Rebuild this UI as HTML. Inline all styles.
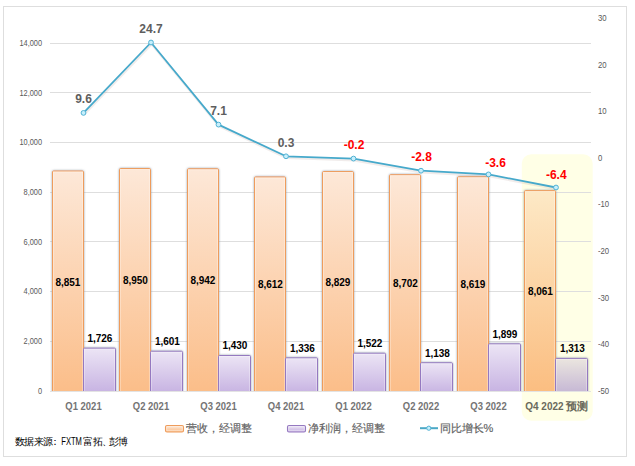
<!DOCTYPE html>
<html><head><meta charset="utf-8"><style>
html,body{margin:0;padding:0;background:#fff;}
body{width:635px;height:466px;overflow:hidden;position:relative;}
svg{position:absolute;left:0;top:0;}
text{font-family:"Liberation Sans",sans-serif;}
</style></head><body>
<svg width="635" height="466" viewBox="0 0 635 466">
<defs>
<linearGradient id="go" x1="0" y1="0" x2="0" y2="1">
<stop offset="0" stop-color="#fde8d8"/><stop offset="1" stop-color="#fbbd88"/>
</linearGradient>
<linearGradient id="gp" x1="0" y1="0" x2="0" y2="1">
<stop offset="0" stop-color="#ece5f5"/><stop offset="1" stop-color="#c5b0e1"/>
</linearGradient>
<filter id="sh" x="-5%" y="-5%" width="110%" height="110%">
<feGaussianBlur in="SourceAlpha" stdDeviation="1.1" result="b"/>
<feFlood flood-color="#8a96a2" flood-opacity="0.9"/>
<feComposite in2="b" operator="in" result="s"/>
<feMerge><feMergeNode in="s"/><feMergeNode in="SourceGraphic"/></feMerge>
</filter>
<linearGradient id="go2" x1="0" y1="0" x2="0" y2="1">
<stop offset="0" stop-color="#fde9c6"/><stop offset="1" stop-color="#fbbd80"/>
</linearGradient>
<linearGradient id="gp2" x1="0" y1="0" x2="0" y2="1">
<stop offset="0" stop-color="#ebe6df"/><stop offset="1" stop-color="#c3b4d4"/>
</linearGradient>
<clipPath id="cl"><rect x="0" y="0" width="635" height="391"/></clipPath>
</defs>
<rect x="0" y="0" width="635" height="466" fill="#fff"/>
<rect x="3.5" y="6.5" width="623" height="450" fill="#fff" stroke="#dedede" stroke-width="1"/>

<rect x="521.8" y="154.2" width="70.9" height="266.6" rx="9.5" ry="9.5" fill="#ffffe6"/>
<line x1="50" y1="341.5" x2="591" y2="341.5" stroke="#dedede" stroke-width="1"/>
<line x1="50" y1="291.5" x2="591" y2="291.5" stroke="#dedede" stroke-width="1"/>
<line x1="50" y1="241.5" x2="591" y2="241.5" stroke="#dedede" stroke-width="1"/>
<line x1="50" y1="192.5" x2="591" y2="192.5" stroke="#dedede" stroke-width="1"/>
<line x1="50" y1="142.5" x2="591" y2="142.5" stroke="#dedede" stroke-width="1"/>
<line x1="50" y1="92.5" x2="591" y2="92.5" stroke="#dedede" stroke-width="1"/>
<line x1="50" y1="43.5" x2="591" y2="43.5" stroke="#dedede" stroke-width="1"/>
<text transform="translate(42.1 393.70) scale(0.86 1)" x="0" y="0" font-size="8.6" fill="#595959" text-anchor="end">0</text>
<text transform="translate(42.1 344.06) scale(0.86 1)" x="0" y="0" font-size="8.6" fill="#595959" text-anchor="end">2,000</text>
<text transform="translate(42.1 294.41) scale(0.86 1)" x="0" y="0" font-size="8.6" fill="#595959" text-anchor="end">4,000</text>
<text transform="translate(42.1 244.77) scale(0.86 1)" x="0" y="0" font-size="8.6" fill="#595959" text-anchor="end">6,000</text>
<text transform="translate(42.1 195.13) scale(0.86 1)" x="0" y="0" font-size="8.6" fill="#595959" text-anchor="end">8,000</text>
<text transform="translate(42.1 145.49) scale(0.86 1)" x="0" y="0" font-size="8.6" fill="#595959" text-anchor="end">10,000</text>
<text transform="translate(42.1 95.84) scale(0.86 1)" x="0" y="0" font-size="8.6" fill="#595959" text-anchor="end">12,000</text>
<text transform="translate(42.1 46.20) scale(0.86 1)" x="0" y="0" font-size="8.6" fill="#595959" text-anchor="end">14,000</text>
<text transform="translate(597.9 393.90) scale(0.9 1)" x="0" y="0" font-size="8.6" fill="#595959">-50</text>
<text transform="translate(597.9 347.29) scale(0.9 1)" x="0" y="0" font-size="8.6" fill="#595959">-40</text>
<text transform="translate(597.9 300.68) scale(0.9 1)" x="0" y="0" font-size="8.6" fill="#595959">-30</text>
<text transform="translate(597.9 254.07) scale(0.9 1)" x="0" y="0" font-size="8.6" fill="#595959">-20</text>
<text transform="translate(597.9 207.46) scale(0.9 1)" x="0" y="0" font-size="8.6" fill="#595959">-10</text>
<text transform="translate(597.9 160.85) scale(0.9 1)" x="0" y="0" font-size="8.6" fill="#595959">0</text>
<text transform="translate(597.9 114.24) scale(0.9 1)" x="0" y="0" font-size="8.6" fill="#595959">10</text>
<text transform="translate(597.9 67.63) scale(0.9 1)" x="0" y="0" font-size="8.6" fill="#595959">20</text>
<text transform="translate(597.9 21.02) scale(0.9 1)" x="0" y="0" font-size="8.6" fill="#595959">30</text>
<line x1="50" y1="391.5" x2="591" y2="391.5" stroke="#e3e3e3" stroke-width="1"/>
<g clip-path="url(#cl)"><g filter="url(#sh)">
<rect x="52.50" y="171.01" width="31" height="223.69" rx="1" fill="url(#go)" stroke="#ee9c5c" stroke-width="1"/>
<rect x="53.50" y="172.01" width="29" height="221.69" fill="none" stroke="#ffffff" stroke-opacity="0.3" stroke-width="1"/>
<rect x="119.50" y="168.55" width="31" height="226.15" rx="1" fill="url(#go)" stroke="#ee9c5c" stroke-width="1"/>
<rect x="120.50" y="169.55" width="29" height="224.15" fill="none" stroke="#ffffff" stroke-opacity="0.3" stroke-width="1"/>
<rect x="187.50" y="168.75" width="31" height="225.95" rx="1" fill="url(#go)" stroke="#ee9c5c" stroke-width="1"/>
<rect x="188.50" y="169.75" width="29" height="223.95" fill="none" stroke="#ffffff" stroke-opacity="0.3" stroke-width="1"/>
<rect x="254.50" y="176.94" width="31" height="217.76" rx="1" fill="url(#go)" stroke="#ee9c5c" stroke-width="1"/>
<rect x="255.50" y="177.94" width="29" height="215.76" fill="none" stroke="#ffffff" stroke-opacity="0.3" stroke-width="1"/>
<rect x="322.50" y="171.55" width="31" height="223.15" rx="1" fill="url(#go)" stroke="#ee9c5c" stroke-width="1"/>
<rect x="323.50" y="172.55" width="29" height="221.15" fill="none" stroke="#ffffff" stroke-opacity="0.3" stroke-width="1"/>
<rect x="389.50" y="174.70" width="31" height="220.00" rx="1" fill="url(#go)" stroke="#ee9c5c" stroke-width="1"/>
<rect x="390.50" y="175.70" width="29" height="218.00" fill="none" stroke="#ffffff" stroke-opacity="0.3" stroke-width="1"/>
<rect x="457.50" y="176.76" width="31" height="217.94" rx="1" fill="url(#go)" stroke="#ee9c5c" stroke-width="1"/>
<rect x="458.50" y="177.76" width="29" height="215.94" fill="none" stroke="#ffffff" stroke-opacity="0.3" stroke-width="1"/>
<rect x="524.50" y="190.61" width="31" height="204.09" rx="1" fill="url(#go2)" stroke="#ee9c5c" stroke-width="1"/>
<rect x="525.50" y="191.61" width="29" height="202.09" fill="none" stroke="#ffffff" stroke-opacity="0.3" stroke-width="1"/>
<rect x="83.50" y="348.16" width="32" height="46.84" rx="1" fill="url(#gp)" stroke="#9579c0" stroke-width="1"/>
<rect x="84.50" y="349.16" width="30" height="44.84" fill="none" stroke="#ffffff" stroke-opacity="0.3" stroke-width="1"/>
<rect x="150.50" y="351.26" width="32" height="43.74" rx="1" fill="url(#gp)" stroke="#9579c0" stroke-width="1"/>
<rect x="151.50" y="352.26" width="30" height="41.74" fill="none" stroke="#ffffff" stroke-opacity="0.3" stroke-width="1"/>
<rect x="218.50" y="355.51" width="32" height="39.49" rx="1" fill="url(#gp)" stroke="#9579c0" stroke-width="1"/>
<rect x="219.50" y="356.51" width="30" height="37.49" fill="none" stroke="#ffffff" stroke-opacity="0.3" stroke-width="1"/>
<rect x="285.50" y="357.84" width="32" height="37.16" rx="1" fill="url(#gp)" stroke="#9579c0" stroke-width="1"/>
<rect x="286.50" y="358.84" width="30" height="35.16" fill="none" stroke="#ffffff" stroke-opacity="0.3" stroke-width="1"/>
<rect x="353.50" y="353.22" width="32" height="41.78" rx="1" fill="url(#gp)" stroke="#9579c0" stroke-width="1"/>
<rect x="354.50" y="354.22" width="30" height="39.78" fill="none" stroke="#ffffff" stroke-opacity="0.3" stroke-width="1"/>
<rect x="420.50" y="362.75" width="32" height="32.25" rx="1" fill="url(#gp)" stroke="#9579c0" stroke-width="1"/>
<rect x="421.50" y="363.75" width="30" height="30.25" fill="none" stroke="#ffffff" stroke-opacity="0.3" stroke-width="1"/>
<rect x="488.50" y="343.86" width="32" height="51.14" rx="1" fill="url(#gp)" stroke="#9579c0" stroke-width="1"/>
<rect x="489.50" y="344.86" width="30" height="49.14" fill="none" stroke="#ffffff" stroke-opacity="0.3" stroke-width="1"/>
<rect x="555.50" y="358.41" width="32" height="36.59" rx="1" fill="url(#gp2)" stroke="#9579c0" stroke-width="1"/>
<rect x="556.50" y="359.41" width="30" height="34.59" fill="none" stroke="#ffffff" stroke-opacity="0.3" stroke-width="1"/>
</g></g>
<text x="67.9" y="285.5" font-size="10" font-weight="bold" fill="#000" text-anchor="middle">8,851</text>
<text x="99.9" y="342.1" font-size="10" font-weight="bold" fill="#000" text-anchor="middle">1,726</text>
<text x="135.4" y="284.2" font-size="10" font-weight="bold" fill="#000" text-anchor="middle">8,950</text>
<text x="167.4" y="345.2" font-size="10" font-weight="bold" fill="#000" text-anchor="middle">1,601</text>
<text x="202.9" y="284.3" font-size="10" font-weight="bold" fill="#000" text-anchor="middle">8,942</text>
<text x="234.9" y="349.4" font-size="10" font-weight="bold" fill="#000" text-anchor="middle">1,430</text>
<text x="270.4" y="288.4" font-size="10" font-weight="bold" fill="#000" text-anchor="middle">8,612</text>
<text x="302.4" y="351.7" font-size="10" font-weight="bold" fill="#000" text-anchor="middle">1,336</text>
<text x="337.9" y="285.7" font-size="10" font-weight="bold" fill="#000" text-anchor="middle">8,829</text>
<text x="369.9" y="347.1" font-size="10" font-weight="bold" fill="#000" text-anchor="middle">1,522</text>
<text x="405.4" y="287.3" font-size="10" font-weight="bold" fill="#000" text-anchor="middle">8,702</text>
<text x="437.4" y="356.7" font-size="10" font-weight="bold" fill="#000" text-anchor="middle">1,138</text>
<text x="472.9" y="288.3" font-size="10" font-weight="bold" fill="#000" text-anchor="middle">8,619</text>
<text x="504.9" y="337.8" font-size="10" font-weight="bold" fill="#000" text-anchor="middle">1,899</text>
<text x="540.4" y="295.3" font-size="10" font-weight="bold" fill="#000" text-anchor="middle">8,061</text>
<text x="572.4" y="352.3" font-size="10" font-weight="bold" fill="#000" text-anchor="middle">1,313</text>
<polyline points="84.1,114.5 151.6,44.1 219.1,126.2 286.6,157.9 354.1,160.2 421.6,172.3 489.1,176.0 556.6,189.1" fill="none" stroke="#b09890" stroke-opacity="0.18" stroke-width="2.4" stroke-linejoin="round"/>
<polyline points="83.5,112.9 151.0,42.5 218.5,124.6 286.0,156.3 353.5,158.6 421.0,170.7 488.5,174.4 556.0,187.5" fill="none" stroke="#46a9cb" stroke-width="1.8" stroke-linejoin="round"/>
<circle cx="83.5" cy="112.9" r="2.4" fill="#c6effc" stroke="#52b2d4" stroke-width="1"/>
<circle cx="151.0" cy="42.5" r="2.4" fill="#c6effc" stroke="#52b2d4" stroke-width="1"/>
<circle cx="218.5" cy="124.6" r="2.4" fill="#c6effc" stroke="#52b2d4" stroke-width="1"/>
<circle cx="286.0" cy="156.3" r="2.4" fill="#c6effc" stroke="#52b2d4" stroke-width="1"/>
<circle cx="353.5" cy="158.6" r="2.4" fill="#c6effc" stroke="#52b2d4" stroke-width="1"/>
<circle cx="421.0" cy="170.7" r="2.4" fill="#c6effc" stroke="#52b2d4" stroke-width="1"/>
<circle cx="488.5" cy="174.4" r="2.4" fill="#c6effc" stroke="#52b2d4" stroke-width="1"/>
<circle cx="556.0" cy="187.5" r="2.4" fill="#c6effc" stroke="#52b2d4" stroke-width="1"/>
<text x="83.5" y="103.1" font-size="12" font-weight="bold" fill="#5e5e5e" text-anchor="middle">9.6</text>
<text x="151.0" y="32.7" font-size="12" font-weight="bold" fill="#5e5e5e" text-anchor="middle">24.7</text>
<text x="218.5" y="115.4" font-size="12" font-weight="bold" fill="#5e5e5e" text-anchor="middle">7.1</text>
<text x="286.0" y="146.5" font-size="12" font-weight="bold" fill="#5e5e5e" text-anchor="middle">0.3</text>
<text x="354.0" y="148.8" font-size="12" font-weight="bold" fill="#ff0000" text-anchor="middle">-0.2</text>
<text x="421.5" y="160.9" font-size="12" font-weight="bold" fill="#ff0000" text-anchor="middle">-2.8</text>
<text x="495.5" y="166.6" font-size="12" font-weight="bold" fill="#ff0000" text-anchor="middle">-3.6</text>
<text x="556.3" y="178.5" font-size="12" font-weight="bold" fill="#ff0000" text-anchor="middle">-6.4</text>
<text transform="translate(83.50 409.6) scale(0.92 1)" x="0" y="0" font-size="10.3" font-weight="bold" fill="#747474" text-anchor="middle">Q1 2021</text>
<text transform="translate(151.00 409.6) scale(0.92 1)" x="0" y="0" font-size="10.3" font-weight="bold" fill="#747474" text-anchor="middle">Q2 2021</text>
<text transform="translate(218.50 409.6) scale(0.92 1)" x="0" y="0" font-size="10.3" font-weight="bold" fill="#747474" text-anchor="middle">Q3 2021</text>
<text transform="translate(286.00 409.6) scale(0.92 1)" x="0" y="0" font-size="10.3" font-weight="bold" fill="#747474" text-anchor="middle">Q4 2021</text>
<text transform="translate(353.50 409.6) scale(0.92 1)" x="0" y="0" font-size="10.3" font-weight="bold" fill="#747474" text-anchor="middle">Q1 2022</text>
<text transform="translate(421.00 409.6) scale(0.92 1)" x="0" y="0" font-size="10.3" font-weight="bold" fill="#747474" text-anchor="middle">Q2 2022</text>
<text transform="translate(488.50 409.6) scale(0.92 1)" x="0" y="0" font-size="10.3" font-weight="bold" fill="#747474" text-anchor="middle">Q3 2022</text>
<text transform="translate(525.3 409.6) scale(0.97 1)" x="0" y="0" font-size="10.3" font-weight="bold" fill="#6a6a5c">Q4 2022</text>
<text x="565.5" y="410.2" font-size="11.4" font-weight="bold" fill="#6a6a5c">预测</text>
<rect x="165.5" y="425.5" width="18" height="6.5" rx="1.5" fill="url(#go)" stroke="#ee9c5c" stroke-width="1.1"/><rect x="166.8" y="426.8" width="15.4" height="3.9" fill="none" stroke="#fff" stroke-opacity="0.5" stroke-width="0.8"/>
<text x="185.5" y="431.7" font-size="11" fill="#606060" stroke="#606060" stroke-width="0.15">营收，经调整</text>
<rect x="287.5" y="425.5" width="18" height="6.5" rx="1.5" fill="url(#gp)" stroke="#9579c0" stroke-width="1.1"/><rect x="288.8" y="426.8" width="15.4" height="3.9" fill="none" stroke="#fff" stroke-opacity="0.5" stroke-width="0.8"/>
<text x="307.5" y="431.7" font-size="11" fill="#606060" stroke="#606060" stroke-width="0.15">净利润，经调整</text>
<line x1="420" y1="428.2" x2="438" y2="428.2" stroke="#4aa8c6" stroke-width="2"/>
<circle cx="428.8" cy="428.2" r="2.1" fill="#c6effc" stroke="#52b2d4" stroke-width="1"/>
<text x="439.6" y="431.7" font-size="11" fill="#606060" stroke="#606060" stroke-width="0.15">同比增长%</text>
<text x="14.5 24 33.5 43" y="445" font-size="9.5" fill="#000">数据来源</text>
<text x="49.8" y="445" font-size="9.5" fill="#000">：</text>
<text x="61.3" y="444.9" font-size="10.4" fill="#000" textLength="20.6" lengthAdjust="spacingAndGlyphs">FXTM</text>
<text x="83 92.5 102 108.5 118" y="445" font-size="9.5" fill="#000">富拓、彭博</text>
</svg></body></html>
